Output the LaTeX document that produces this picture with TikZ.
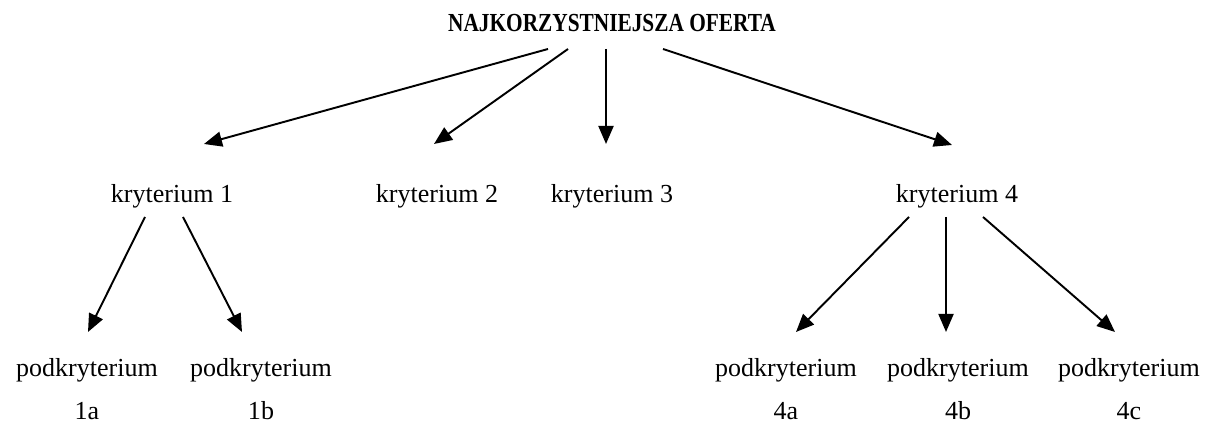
\documentclass[tikz,border=0pt]{standalone}
\usepackage{fontspec}
\setmainfont{Liberation Serif}
\newfontfamily\tytulfont[FakeStretch=0.82]{Liberation Serif}
\usetikzlibrary{arrows.meta}

\tikzset{
	kryt/.style={inner sep=0, anchor=base, font=\fontsize{14.8}{24.5}\selectfont},
	podkryt/.style={kryt, align=center},
	strz/.style={line width=1.1pt, -{Triangle[length=0.36cm,width=0.3cm]}}
}

\begin{document}
	\begin{tikzpicture}
		\useasboundingbox (0,0) rectangle (24.28,8.5);
		\node[inner sep=0, anchor=base, font=\tytulfont\fontsize{14.8}{16}\selectfont\bfseries] (oferta) at (12.24,7.86) {NAJKORZYSTNIEJSZA OFERTA};
		\node[kryt] (k1) at (3.44,4.44) {kryterium 1};
		\node[kryt] (k2) at (8.74,4.44) {kryterium 2};
		\node[kryt] (k3) at (12.24,4.44) {kryterium 3};
		\node[kryt] (k4) at (19.14,4.44) {kryterium 4};
		\node[podkryt] (p1a) at (1.74,0.10) {podkryterium\\1a};
		\node[podkryt] (p1b) at (5.22,0.10) {podkryterium\\1b};
		\node[podkryt] (p4a) at (15.72,0.10) {podkryterium\\4a};
		\node[podkryt] (p4b) at (19.16,0.10) {podkryterium\\4b};
		\node[podkryt] (p4c) at (22.58,0.10) {podkryterium\\4c};
		% strzalki z gory
		\draw[strz] ([shift={(-1.28,-0.34)}]oferta.base) -- ([shift={(0.64,1.18)}]k1.base);
		\draw[strz] ([shift={(-0.88,-0.34)}]oferta.base) -- ([shift={(-0.06,1.18)}]k2.base);
		\draw[strz] ([shift={(-0.12,-0.34)}]oferta.base) -- ([shift={(-0.12,1.18)}]k3.base);
		\draw[strz] ([shift={(1.02,-0.34)}]oferta.base) -- ([shift={(-0.10,1.16)}]k4.base);
		% podkryteria
		\draw[strz] ([shift={(-0.54,-0.28)}]k1.base) -- ([shift={(0.02,1.76)}]p1a.base);
		\draw[strz] ([shift={(0.22,-0.28)}]k1.base) -- ([shift={(-0.38,1.76)}]p1b.base);
		\draw[strz] ([shift={(-0.96,-0.28)}]k4.base) -- ([shift={(0.20,1.76)}]p4a.base);
		\draw[strz] ([shift={(-0.22,-0.28)}]k4.base) -- ([shift={(-0.24,1.76)}]p4b.base);
		\draw[strz] ([shift={(0.52,-0.28)}]k4.base) -- ([shift={(-0.28,1.76)}]p4c.base);
	\end{tikzpicture}
\end{document}
